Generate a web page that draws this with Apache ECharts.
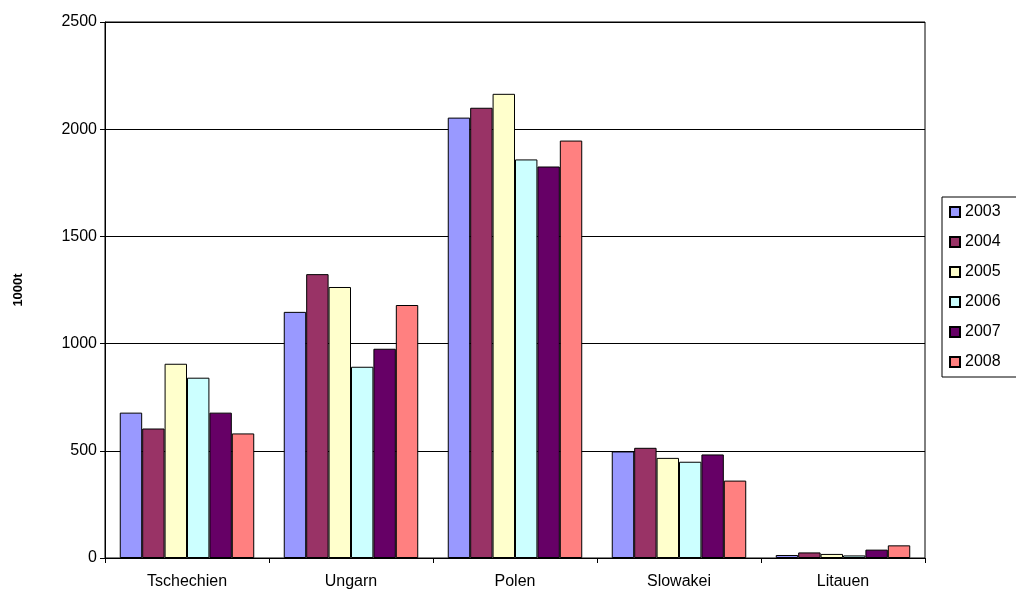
<!DOCTYPE html>
<html><head><meta charset="utf-8">
<script src="https://cdn.jsdelivr.net/npm/echarts@6/dist/echarts.min.js"></script>
<style>html,body{margin:0;padding:0;background:#fff}#c{width:1016px;height:590px}</style>
</head><body><div id="c"></div>
<script>
const categories=["Tschechien","Ungarn","Polen","Slowakei","Litauen"];
const years=["2003","2004","2005","2006","2007","2008"];
const v2003=[678,1148,2054,497,14];
const v2004=[604,1324,2100,514,26];
const v2005=[906,1264,2165,467,19];
const v2006=[841,892,1859,449,12];
const v2007=[678,976,1826,483,39];
const v2008=[581,1180,1947,361,59];
const values=[v2003,v2004,v2005,v2006,v2007,v2008];
const colors=["#9999ff","#993366","#ffffcc","#ccffff","#660066","#ff8080"];
const chart=echarts.init(document.getElementById('c'));
chart.setOption({
  animation:false,
  textStyle:{fontFamily:"Liberation Sans"},
  grid:{left:105,right:91,top:22,bottom:30,show:true,borderColor:"#000",borderWidth:1},
  legend:{orient:"vertical",left:942,top:197,itemWidth:10,itemHeight:10,itemGap:14,
    icon:"rect",borderColor:"#000",borderWidth:1,padding:[7,20,7,7],
    textStyle:{fontSize:16,color:"#000",padding:[0,0,0,0]},data:years},
  xAxis:{type:"category",data:categories,
    axisLine:{lineStyle:{color:"#000"}},axisTick:{show:true,lineStyle:{color:"#000"}},
    axisLabel:{fontSize:16,color:"#000",margin:16}},
  yAxis:{type:"value",min:0,max:2500,interval:500,name:"1000t",nameLocation:"middle",nameGap:80,
    nameTextStyle:{fontSize:13,fontWeight:"bold",color:"#000"},
    axisLine:{show:true,lineStyle:{color:"#000"}},axisTick:{show:true,lineStyle:{color:"#000"}},
    axisLabel:{fontSize:16,color:"#000",formatter:v=>String(v)},splitLine:{lineStyle:{color:"#000"}}},
  series:years.map((y,i)=>({name:y,type:"bar",data:values[i],barGap:"0%",barCategoryGap:"18%",
    itemStyle:{color:colors[i],borderColor:"#000",borderWidth:1}}))
});
</script></body></html>
